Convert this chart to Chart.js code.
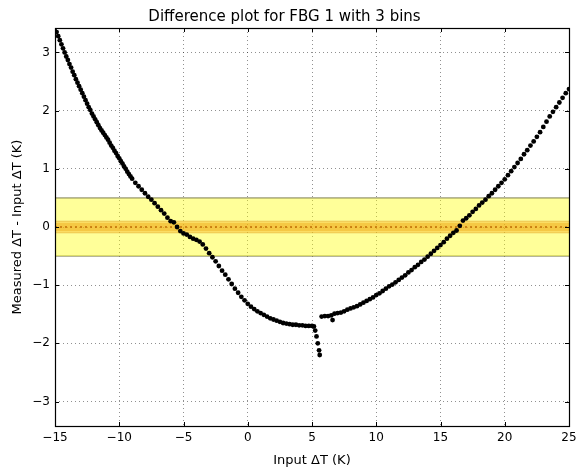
<!DOCTYPE html>
<html>
<head>
<meta charset="utf-8">
<script src="https://cdn.jsdelivr.net/npm/chart.js@4.4.1/dist/chart.umd.min.js"></script>
<style>
html,body{margin:0;padding:0;background:#fff;}
canvas{display:block;}
</style>
</head>
<body>
<canvas id="c" width="579" height="468"></canvas>
<script>
// ---- data ----
const bin1X = [-15.00,-14.875,-14.75,-14.625,-14.50,-14.375,-14.25,-14.125,-14.00,-13.875,-13.75,-13.625,-13.50,-13.375,-13.25,-13.125,-13.00,-12.875,-12.75,-12.625,-12.50,-12.375,-12.25,-12.125,-12.00,-11.875,-11.75,-11.625,-11.50,-11.375,-11.25,-11.125,-11.00,-10.875,-10.75,-10.625,-10.50,-10.375,-10.25,-10.125,-10.00,-9.875,-9.75,-9.625,-9.50,-9.375,-9.25,-9.125,-9.00,-8.75,-8.50,-8.25,-8.00,-7.75,-7.50,-7.25,-7.00,-6.75,-6.50,-6.25,-6.00,-5.75,-5.50,-5.25,-5.00,-4.75,-4.50,-4.25,-4.00,-3.75,-3.50,-3.25];
const bin1Y = [3.42,3.35,3.28,3.21,3.14,3.07,3.00,2.93,2.87,2.80,2.74,2.67,2.61,2.54,2.48,2.42,2.36,2.30,2.24,2.18,2.12,2.06,2.01,1.95,1.90,1.85,1.80,1.75,1.70,1.66,1.62,1.58,1.54,1.50,1.45,1.40,1.36,1.31,1.27,1.22,1.18,1.13,1.09,1.04,1.00,0.95,0.91,0.87,0.83,0.76,0.70,0.64,0.58,0.52,0.47,0.41,0.35,0.29,0.23,0.16,0.10,0.08,0.00,-0.07,-0.11,-0.13,-0.17,-0.20,-0.22,-0.25,-0.30,-0.37];
const bin2X = [-3.00,-2.75,-2.50,-2.25,-2.00,-1.75,-1.50,-1.25,-1.00,-0.75,-0.50,-0.25,0.00,0.25,0.50,0.75,1.00,1.25,1.50,1.75,2.00,2.25,2.50,2.75,3.00,3.25,3.50,3.75,4.00,4.25,4.50,4.75,5.00,5.15,5.25,5.35,5.45,5.55,5.60];
const bin2Y = [-0.45,-0.52,-0.59,-0.67,-0.75,-0.82,-0.90,-0.98,-1.06,-1.13,-1.20,-1.26,-1.32,-1.37,-1.41,-1.45,-1.48,-1.51,-1.54,-1.57,-1.59,-1.61,-1.63,-1.65,-1.66,-1.67,-1.68,-1.68,-1.69,-1.69,-1.70,-1.70,-1.70,-1.71,-1.78,-1.88,-2.00,-2.12,-2.20];
const bin3X = [5.75,6.00,6.25,6.50,6.60,6.75,7.00,7.25,7.50,7.75,8.00,8.25,8.50,8.75,9.00,9.25,9.50,9.75,10.00,10.25,10.50,10.75,11.00,11.25,11.50,11.75,12.00,12.25,12.50,12.75,13.00,13.25,13.50,13.75,14.00,14.25,14.50,14.75,15.00,15.25,15.50,15.75,16.00,16.25,16.50,16.75,17.00,17.25,17.50,17.75,18.00,18.25,18.50,18.75,19.00,19.25,19.50,19.75,20.00,20.25,20.50,20.75,21.00,21.25,21.50,21.75,22.00,22.25,22.50,22.75,23.00,23.25,23.50,23.75,24.00,24.25,24.50,24.75,25.00];
const bin3Y = [-1.54,-1.53,-1.53,-1.52,-1.60,-1.49,-1.48,-1.47,-1.45,-1.42,-1.40,-1.38,-1.36,-1.33,-1.30,-1.27,-1.24,-1.21,-1.17,-1.14,-1.10,-1.06,-1.02,-0.99,-0.95,-0.91,-0.87,-0.83,-0.78,-0.74,-0.69,-0.65,-0.60,-0.56,-0.51,-0.46,-0.41,-0.36,-0.31,-0.26,-0.20,-0.15,-0.10,-0.06,0.02,0.11,0.15,0.20,0.26,0.31,0.37,0.42,0.47,0.53,0.58,0.64,0.70,0.76,0.82,0.89,0.96,1.03,1.10,1.17,1.25,1.32,1.40,1.47,1.55,1.63,1.72,1.81,1.90,1.98,2.06,2.14,2.22,2.30,2.37];
const xTicks = [-15,-10,-5,0,5,10,15,20,25];
const yTicks = [-3,-2,-1,0,1,2,3];
const xRange = [-15, 25];
const yRange = [-3.42, 3.42];
const outerBand = 0.5;
const innerBand = 0.1;
const coreBand = 0.07;

const titleText = 'Difference plot for FBG 1 with 3 bins';
const xLabel = 'Input \u0394T (K)';
const yLabel = 'Measured \u0394T - Input \u0394T (K)';

// ---- build ----
const pts = [];
[[bin1X,bin1Y],[bin2X,bin2Y],[bin3X,bin3Y]].forEach(([xs,ys]) => xs.forEach((x,i) => pts.push({x:x, y:ys[i]})));
const hline = v => [{x:xRange[0], y:v},{x:xRange[1], y:v}];
const fmt = v => (v < 0 ? '\u2212' : '') + Math.abs(v);
const FONT = 'DejaVu Sans';

const framePlugin = {
  id: 'frame',
  afterDatasetsDraw(chart) {
    const {ctx, chartArea: a, scales} = chart;
    ctx.save();
    ctx.strokeStyle = '#000';
    ctx.lineWidth = 1;
    ctx.beginPath();
    xTicks.forEach(t => {
      const px = Math.round(scales.x.getPixelForValue(t)) + 0.5;
      ctx.moveTo(px, a.bottom); ctx.lineTo(px, a.bottom - 4);
      ctx.moveTo(px, a.top); ctx.lineTo(px, a.top + 4);
    });
    yTicks.forEach(t => {
      const py = Math.round(scales.y.getPixelForValue(t)) + 0.5;
      ctx.moveTo(a.left, py); ctx.lineTo(a.left + 4, py);
      ctx.moveTo(a.right, py); ctx.lineTo(a.right - 4, py);
    });
    ctx.stroke();
    ctx.lineWidth = 1.2;
    ctx.strokeRect(Math.round(a.left)+0.5, Math.round(a.top)+0.5, Math.round(a.right-a.left), Math.round(a.bottom-a.top));
    ctx.restore();
  }
};

new Chart(document.getElementById('c'), {
  type: 'scatter',
  data: {
    datasets: [
      {type:'line', data: hline(outerBand), fill:'+1', backgroundColor:'rgba(255,255,0,0.40)', borderColor:'rgba(120,120,70,0.55)', borderWidth:1.6, pointRadius:0, order:6},
      {type:'line', data: hline(-outerBand), fill:false, borderColor:'rgba(120,120,70,0.55)', borderWidth:1.6, pointRadius:0, order:6},
      {type:'line', data: hline(innerBand), fill:'+1', backgroundColor:'rgba(245,170,20,0.40)', borderColor:'rgba(220,160,40,0.5)', borderWidth:1, pointRadius:0, order:5},
      {type:'line', data: hline(-innerBand), fill:false, borderColor:'rgba(220,160,40,0.5)', borderWidth:1, pointRadius:0, order:5},
      {type:'line', data: hline(coreBand), fill:'+1', backgroundColor:'rgba(235,160,10,0.35)', borderWidth:0, pointRadius:0, order:4},
      {type:'line', data: hline(-coreBand), fill:false, borderWidth:0, pointRadius:0, order:4},
      {type:'line', data: hline(0), fill:false, borderColor:'rgba(190,100,0,0.9)', borderWidth:1.5, borderDash:[2,3], pointRadius:0, order:3},
      {type:'scatter', data: pts, backgroundColor:'#000', borderWidth:0, pointRadius:2.4, pointHoverRadius:2.4, order:0}
    ]
  },
  options: {
    responsive: false,
    animation: false,
    events: [],
    layout: {padding: {left:0, right:10, top:0, bottom:0}},
    plugins: {
      legend: {display:false},
      tooltip: {enabled:false},
      title: {display:true, text:titleText, color:'#000', font:{family:FONT, size:15, weight:'normal'}, padding:{top:8, bottom:2}}
    },
    scales: {
      x: {
        type:'linear', min:xRange[0], max:xRange[1],
        afterFit: s => { s.height = 42; s.paddingRight = 0; s.paddingLeft = 0; },
        afterBuildTicks: s => { s.ticks = xTicks.map(v => ({value:v})); },
        ticks: {callback: fmt, color:'#000', font:{family:FONT, size:12}, padding:5, maxRotation:0, autoSkip:false},
        grid: {color:'rgba(0,0,0,0.55)', lineWidth:0.8, drawTicks:false},
        border: {display:false, dash:[1,3]},
        title: {display:true, text:xLabel, color:'#000', font:{family:FONT, size:13}, padding:{top:0, bottom:0}}
      },
      y: {
        type:'linear', min:yRange[0], max:yRange[1],
        afterFit: s => { s.width = 55; },
        afterBuildTicks: s => { s.ticks = yTicks.map(v => ({value:v})); },
        ticks: {callback: fmt, color:'#000', font:{family:FONT, size:12}, padding:5, autoSkip:false},
        grid: {color:'rgba(0,0,0,0.55)', lineWidth:0.8, drawTicks:false},
        border: {display:false, dash:[1,3]},
        title: {display:true, text:yLabel, color:'#000', font:{family:FONT, size:13}, padding:{top:10, bottom:0}}
      }
    }
  },
  plugins: [framePlugin]
});
</script>
</body>
</html>
